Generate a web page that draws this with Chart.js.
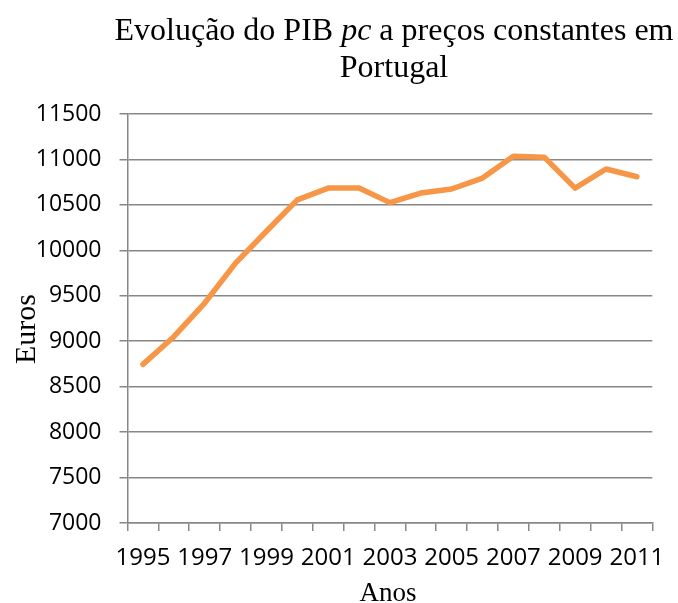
<!DOCTYPE html>
<html>
<head>
<meta charset="utf-8">
<script src="https://cdn.jsdelivr.net/npm/chart.js@4/dist/chart.umd.min.js"></script>
<style>
html,body{margin:0;padding:0;background:#fff;overflow:hidden;}
#wrap{position:relative;width:678px;height:603px;}
</style>
</head>
<body>
<div id="wrap"><canvas id="c" width="678" height="603"></canvas></div>
<script>
// Data
const years = ['1995','1996','1997','1998','1999','2000','2001','2002','2003','2004','2005','2006','2007','2008','2009','2010','2011'];
const pibPc = [8745, 9050, 9420, 9860, 10210, 10555, 10685, 10685, 10525, 10630, 10675, 10795, 11035, 11025, 10685, 10895, 10810];
const yTicks = [7000, 7500, 8000, 8500, 9000, 9500, 10000, 10500, 11000, 11500];
const titleParts = [['Evolução do PIB ', false], ['pc', true], [' a preços constantes em', false]];
const titleLine2 = 'Portugal';
const yTitle = 'Euros';
const xTitle = 'Anos';

const serif = '"Liberation Serif", "Times New Roman", serif';
const sans = '"Open Sans", sans-serif';
const gridColor = '#878787';

const textPlugin = {
  id: 'customText',
  afterDraw(chart) {
    const ctx = chart.ctx;
    ctx.save();
    ctx.fillStyle = '#000';
    ctx.textBaseline = 'alphabetic';
    const size = 32;
    let total = 0;
    const widths = titleParts.map(([t, it]) => {
      ctx.font = (it ? 'italic ' : '') + size + 'px ' + serif;
      const w = ctx.measureText(t).width;
      total += w;
      return w;
    });
    const cx = 394;
    let x = cx - total / 2;
    ctx.textAlign = 'left';
    titleParts.forEach(([t, it], i) => {
      ctx.font = (it ? 'italic ' : '') + size + 'px ' + serif;
      ctx.fillText(t, x, 39.5);
      x += widths[i];
    });
    ctx.textAlign = 'center';
    ctx.font = size + 'px ' + serif;
    ctx.fillText(titleLine2, cx, 77);
    ctx.font = '27px ' + serif;
    ctx.fillText(xTitle, 388, 601);
    ctx.translate(35, 329);
    ctx.rotate(-Math.PI / 2);
    ctx.font = '30px ' + serif;
    ctx.fillText(yTitle, 0, 0);
    ctx.restore();
  }
};

new Chart(document.getElementById('c'), {
  type: 'line',
  data: {
    labels: years,
    datasets: [{
      data: pibPc,
      borderColor: '#F79646',
      backgroundColor: '#F79646',
      borderWidth: 5.5,
      pointRadius: 0,
      pointHoverRadius: 0,
      tension: 0,
      borderCapStyle: 'round',
      borderJoinStyle: 'round',
      fill: false
    }]
  },
  options: {
    responsive: false,
    animation: false,
    events: [],
    layout: { padding: { top: 114, right: 23, bottom: 0, left: 0 } },
    plugins: {
      legend: { display: false },
      title: { display: false },
      tooltip: { enabled: false }
    },
    scales: {
      x: {
        type: 'category',
        offset: true,
        grid: {
          offset: true,
          drawOnChartArea: false,
          drawTicks: true,
          tickLength: 8,
          color: gridColor,
          lineWidth: 1.5
        },
        border: { display: true, color: gridColor, width: 1.5 },
        ticks: {
          autoSkip: false,
          maxRotation: 0,
          minRotation: 0,
          padding: 13,
          color: '#000',
          font: { family: sans, size: 24 },
          callback: function(value, index) { return index % 2 === 0 ? years[index] : ''; }
        },
        afterFit(scale) { scale.height = 80; }
      },
      y: {
        min: yTicks[0],
        max: yTicks[yTicks.length - 1],
        afterBuildTicks(scale) { scale.ticks = yTicks.map(v => ({ value: v })); },
        grid: {
          drawOnChartArea: true,
          drawTicks: true,
          tickLength: 8,
          color: gridColor,
          lineWidth: 1.5
        },
        border: { display: true, color: gridColor, width: 1.5 },
        ticks: {
          padding: 18,
          color: '#000',
          font: { family: sans, size: 23 },
          callback: v => String(v)
        },
        afterFit(scale) { scale.width = 127.5; }
      }
    }
  },
  plugins: [textPlugin]
});
</script>
</body>
</html>
